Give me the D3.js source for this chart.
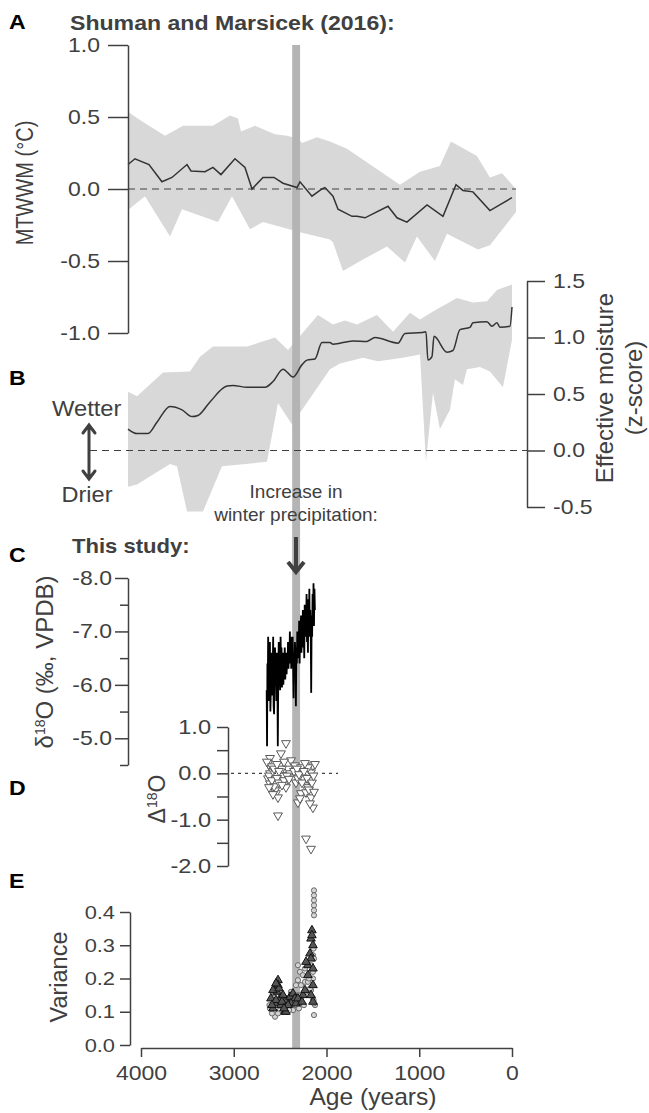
<!DOCTYPE html>
<html>
<head>
<meta charset="utf-8">
<script src="https://cdn.jsdelivr.net/npm/d3@7"></script>
<style>
body { margin: 0; background: #fff; }
svg text { font-family: "Liberation Sans", Arial, Helvetica, sans-serif; }
</style>
</head>
<body>
<div class="canvas"></div>
<script>
// ---- data ----
// A: MTWWM anomaly (degC), Shuman and Marsicek (2016)
const ageA = [4140, 4065, 3914, 3774, 3666, 3504, 3461, 3310, 3224, 3138, 2987, 2879, 2803, 2685, 2566, 2469, 2318, 2286, 2157, 2049, 2017, 1930, 1876, 1725, 1671, 1585, 1337, 1240, 1133, 916, 744, 604, 529, 421, 238, 0];
const mtwwm = [0.17, 0.21, 0.17, 0.05, 0.08, 0.17, 0.125, 0.12, 0.15, 0.10, 0.21, 0.15, 0.0, 0.08, 0.08, 0.04, 0.01, 0.05, -0.05, 0.0, 0.01, -0.05, -0.14, -0.19, -0.19, -0.2, -0.12, -0.2, -0.23, -0.11, -0.19, 0.03, -0.01, -0.02, -0.15, -0.06];
const ageAHi = [4140, 3978, 3741, 3547, 3224, 3041, 2954, 2922, 2771, 2556, 2426, 2308, 2264, 2103, 1963, 1779, 1208, 992, 777, 658, 378, 238, 108, -43];
const mtwwmHi = [0.535, 0.465, 0.37, 0.44, 0.44, 0.51, 0.49, 0.40, 0.44, 0.38, 0.37, 0.35, 0.32, 0.36, 0.33, 0.28, 0.03, 0.12, 0.16, 0.33, 0.23, 0.08, 0.11, 0.0];
const ageALo = [4140, 3957, 3687, 3558, 3170, 3019, 2825, 2685, 2286, 1963, 1930, 1822, 1607, 1348, 1154, 1025, 831, 701, 367, 238, -43];
const mtwwmLo = [-0.146, -0.05, -0.33, -0.14, -0.23, -0.05, -0.28, -0.23, -0.30, -0.35, -0.37, -0.57, -0.49, -0.40, -0.51, -0.33, -0.50, -0.31, -0.42, -0.39, -0.16];

// B: effective moisture (z-score)
const ageB = [4140, 4043, 3925, 3828, 3687, 3558, 3450, 3386, 3256, 3073, 3008, 2857, 2663, 2577, 2469, 2361, 2264, 2210, 2124, 2049, 1963, 1930, 1715, 1564, 1477, 1230, 1154, 971, 928, 906, 863, 841, 701, 637, 561, 453, 421, 270, 216, 162, 130, 22, 0];
const moist = [0.19, 0.15, 0.15, 0.25, 0.39, 0.36, 0.30, 0.31, 0.43, 0.57, 0.575, 0.56, 0.56, 0.61, 0.72, 0.65, 0.76, 0.80, 0.81, 0.955, 0.955, 0.94, 0.97, 0.965, 1.0, 0.95, 1.035, 1.045, 1.05, 0.80, 0.83, 1.01, 0.87, 0.885, 1.07, 1.09, 1.13, 1.14, 1.10, 1.13, 1.09, 1.10, 1.27];
const ageBHi = [4140, 4043, 3763, 3472, 3364, 3224, 2857, 2556, 2415, 2092, 1930, 1801, 1672, 1456, 1283, 1100, 992, 852, 594, 421, 270, 162, 0];
const moistHi = [0.52, 0.48, 0.69, 0.70, 0.83, 0.92, 0.92, 1.0, 0.89, 1.20, 1.115, 1.15, 1.115, 1.20, 1.05, 1.22, 1.16, 1.23, 1.35, 1.31, 1.32, 1.42, 1.47];
const ageBLo = [4140, 4043, 3687, 3612, 3504, 3332, 3127, 2642, 2523, 2372, 1963, 1855, 1607, 1445, 1176, 992, 928, 852, 777, 669, 615, 529, 486, 346, 238, 98, 0];
const moistLo = [-0.32, -0.30, -0.12, -0.14, -0.54, -0.54, -0.14, -0.10, 0.42, 0.23, 0.72, 0.77, 0.82, 0.79, 0.82, 0.85, -0.10, 0.51, 0.19, 0.36, 0.63, 0.58, 0.72, 0.74, 0.70, 0.56, 0.98];

// C: d18O (permil VPDB), this study
const ageC = [2645, 2641, 2637, 2633, 2629, 2625, 2620, 2615, 2610, 2605, 2600, 2595, 2590, 2585, 2580, 2575, 2570, 2565, 2560, 2555, 2550, 2545, 2540, 2535, 2530, 2525, 2520, 2515, 2510, 2505, 2500, 2495, 2490, 2485, 2480, 2475, 2470, 2465, 2460, 2455, 2450, 2445, 2440, 2435, 2430, 2425, 2420, 2415, 2410, 2405, 2400, 2395, 2390, 2385, 2380, 2375, 2370, 2365, 2360, 2355, 2350, 2345, 2340, 2335, 2330, 2325, 2320, 2315, 2310, 2305, 2300, 2295, 2290, 2285, 2280, 2275, 2270, 2265, 2260, 2255, 2250, 2245, 2240, 2235, 2230, 2225, 2220, 2215, 2210, 2205, 2200, 2195, 2190, 2185, 2180, 2175, 2170, 2165, 2160, 2155, 2150, 2145, 2140, 2135, 2130, 2125];
const d18O = [-5.9, -4.85, -6.4, -6.0, -6.9, -5.7, -6.3, -6.1, -6.8, -5.5, -5.9, -6.6, -5.8, -6.5, -6.2, -6.9, -5.6, -5.45, -6.3, -6.7, -6.0, -6.4, -5.7, -6.6, -6.3, -4.85, -6.1, -6.8, -6.2, -6.5, -5.9, -6.9, -6.4, -6.7, -5.95, -6.2, -6.6, -6.0, -6.5, -6.3, -6.7, -6.1, -6.35, -6.6, -6.2, -6.5, -6.3, -6.8, -6.3, -6.6, -6.4, -7.0, -6.5, -6.9, -6.3, -6.6, -6.45, -6.9, -6.4, -5.75, -6.6, -6.3, -6.8, -6.5, -5.6, -6.7, -6.4, -7.0, -6.5, -6.9, -6.6, -7.2, -6.4, -6.9, -6.7, -7.3, -6.6, -7.0, -6.8, -7.4, -6.7, -7.1, -6.5, -7.5, -6.9, -7.3, -7.0, -7.7, -6.8, -7.2, -6.6, -7.6, -7.1, -7.8, -6.9, -7.4, -7.0, -5.85, -7.3, -6.9, -7.7, -7.2, -7.9, -7.1, -7.8, -7.4];

// D: Delta18O (permil)
const ageD = [2609, 2631, 2599, 2609, 2631, 2609, 2599, 2545, 2523, 2555, 2502, 2491, 2469, 2448, 2437, 2415, 2393, 2383, 2340, 2361, 2329, 2286, 2275, 2254, 2232, 2275, 2308, 2286, 2221, 2200, 2178, 2167, 2146, 2167, 2146, 2178, 2200, 2232, 2308, 2642, 2620, 2588, 2577, 2566, 2534, 2512, 2480, 2458, 2426, 2404, 2350, 2318, 2297, 2264, 2243, 2210, 2189, 2157, 2135, 2124, 2140, 2588, 2566, 2534, 2512, 2480, 2458, 2620, 2577, 2437, 2491, 2523, 2221, 2167];
const delta = [0.33, 0.22, 0.11, 0.0, -0.11, -0.22, -0.33, -0.43, -0.52, -0.37, 0.17, 0.07, -0.04, -0.2, -0.3, 0.1, 0.0, 0.28, 0.17, -0.09, -0.2, 0.02, 0.13, -0.09, -0.26, -0.43, -0.63, -0.54, -0.41, -0.3, -0.15, 0.02, 0.17, -0.52, -0.74, -0.65, 0.13, 0.22, -0.11, 0.25, -0.05, -0.15, 0.05, -0.28, -0.1, -0.2, 0.1, -0.15, -0.05, -0.12, 0.05, 0.1, -0.02, -0.2, 0.05, -0.1, -0.35, -0.2, -0.4, 0.2, -0.05, 0.15, 0.1, 0.2, 0.05, -0.25, 0.25, -0.3, -0.45, 0.65, 0.43, -0.91, -1.41, -1.63];

// E: variance, two estimates (circles, triangles)
const ageEc = [2577, 2599, 2555, 2502, 2469, 2383, 2361, 2340, 2308, 2286, 2308, 2275, 2254, 2232, 2232, 2200, 2167, 2146, 2146, 2167, 2146, 2124, 2329, 2415, 2545, 2609, 2523, 2275, 2308, 2221, 2135, 2135, 2135, 2135, 2135, 2135, 2135, 2135, 2140, 2146, 2135, 2140, 2615, 2588, 2566, 2480, 2437, 2404, 2350, 2297, 2264, 2243, 2189, 2178];
const varC = [0.155, 0.11, 0.085, 0.105, 0.125, 0.16, 0.105, 0.12, 0.24, 0.22, 0.195, 0.18, 0.21, 0.19, 0.23, 0.19, 0.24, 0.22, 0.27, 0.165, 0.14, 0.12, 0.18, 0.14, 0.175, 0.11, 0.095, 0.135, 0.15, 0.16, 0.465, 0.45, 0.435, 0.42, 0.405, 0.39, 0.09, 0.125, 0.135, 0.2, 0.26, 0.29, 0.12, 0.095, 0.13, 0.115, 0.12, 0.105, 0.13, 0.11, 0.125, 0.12, 0.2, 0.17];
const ageEt = [2523, 2523, 2534, 2502, 2555, 2577, 2448, 2491, 2437, 2393, 2361, 2340, 2286, 2254, 2232, 2200, 2200, 2178, 2167, 2157, 2146, 2167, 2146, 2146, 2167, 2383, 2329, 2599, 2577, 2545, 2469, 2437, 2221, 2512, 2480, 2415, 2308, 2264, 2157, 2146, 2588, 2545, 2458];
const varT = [0.195, 0.18, 0.16, 0.14, 0.125, 0.11, 0.10, 0.12, 0.135, 0.145, 0.155, 0.14, 0.135, 0.15, 0.165, 0.21, 0.24, 0.275, 0.32, 0.345, 0.30, 0.26, 0.18, 0.13, 0.15, 0.125, 0.125, 0.14, 0.165, 0.135, 0.15, 0.10, 0.25, 0.17, 0.13, 0.12, 0.14, 0.13, 0.33, 0.23, 0.12, 0.185, 0.11];

// event band (years) and tick labels
const eventAges = [2370, 2285];
const ticksA = [1, 0.5, 0, -0.5, -1];
const ticksB = [1.5, 1, 0.5, 0, -0.5];
const ticksC = [-8, -7.5, -7, -6.5, -6, -5.5, -5, -4.5];
const labelsC = [-8, -7, -6, -5];
const ticksD = [1, 0.5, 0, -0.5, -1, -1.5, -2];
const labelsD = [1, 0, -1, -2];
const ticksE = [0.4, 0.3, 0.2, 0.1, 0];
const ticksAge = [4000, 3000, 2000, 1000, 0];

// ---- drawing ----
const ink = '#404040';
const bandFill = '#d8d8d8';

const svg = d3.select('.canvas')
    .append('svg')
        .attr('width', 649)
        .attr('height', 1113);

const x = d3.scaleLinear().domain([4000, 0]).range([141, 512]);
const yA = d3.scaleLinear().domain([-1, 1]).range([333, 45]);
const yB = d3.scaleLinear().domain([-0.5, 1.5]).range([507, 281]);
const yC = d3.scaleLinear().domain([-4.5, -8]).range([765, 578]);
const yD = d3.scaleLinear().domain([-2, 1]).range([866, 727]);
const yE = d3.scaleLinear().domain([0, 0.4]).range([1045, 912]);

const zip = (a, b) => a.map((v, i) => [v, b[i]]);

// text helper: the figure is a bit wider than tall, so most text is stretched sideways
function label(x0, y0, s, o = {}) {
    let tf = `translate(${x0},${y0}) scale(${o.sx || 1},1)`;
    if (o.rot) tf += ` rotate(${o.rot})`;
    return svg.append('text')
        .attr('transform', tf)
        .attr('text-anchor', o.anchor || 'start')
        .attr('fill', o.fill || ink)
        .style('font-size', (o.size || 20) + 'px')
        .style('font-weight', o.bold ? 'bold' : null)
        .text(s);
}

function styleAxis(g, dx, size, sx) {
    g.attr('font-size', null).attr('font-family', null);
    g.select('.domain').attr('stroke', ink).attr('stroke-width', 1.5);
    g.selectAll('.tick line').attr('stroke', ink).attr('stroke-width', 1.5);
    g.selectAll('.tick text')
        .attr('fill', ink)
        .style('font-size', size + 'px')
        .attr('transform', `scale(${sx},1)`);
    if (dx !== null) g.selectAll('.tick text').attr('x', dx / sx);
}

function band(agesHi, hi, agesLo, lo, y) {
    const pts = zip(agesHi, hi).concat(zip(agesLo, lo).reverse());
    const line = d3.line().x(d => x(d[0])).y(d => y(d[1]));
    return line(pts) + 'Z';
}

const fmt = d => d.toFixed(1);

// shaded uncertainty bands
svg.append('path').attr('d', band(ageAHi, mtwwmHi, ageALo, mtwwmLo, yA)).attr('fill', bandFill);
svg.append('path').attr('d', band(ageBHi, moistHi, ageBLo, moistLo, yB)).attr('fill', bandFill);

// event bar
svg.append('rect')
    .attr('x', x(eventAges[0]))
    .attr('width', x(eventAges[1]) - x(eventAges[0]))
    .attr('y', 45)
    .attr('height', 1048 - 45)
    .attr('fill', '#b4b4b4');

// zero lines
svg.append('line').attr('x1', 128).attr('x2', 516).attr('y1', yA(0)).attr('y2', yA(0))
    .attr('stroke', ink).attr('stroke-width', 1.2).attr('stroke-dasharray', '7,5');
svg.append('line').attr('x1', 90).attr('x2', 527).attr('y1', yB(0)).attr('y2', yB(0))
    .attr('stroke', ink).attr('stroke-width', 1.2).attr('stroke-dasharray', '7,5');
svg.append('line').attr('x1', 231).attr('x2', 338).attr('y1', yD(0)).attr('y2', yD(0))
    .attr('stroke', ink).attr('stroke-width', 1.2).attr('stroke-dasharray', '3,4');

// mean lines
svg.append('path')
    .attr('d', d3.line().x(d => x(d[0])).y(d => yA(d[1]))(zip(ageA, mtwwm)))
    .attr('fill', 'none').attr('stroke', '#333').attr('stroke-width', 1.5);
svg.append('path')
    .attr('d', d3.line().curve(d3.curveMonotoneX).x(d => x(d[0])).y(d => yB(d[1]))(zip(ageB, moist).reverse()))
    .attr('fill', 'none').attr('stroke', '#333').attr('stroke-width', 1.5);

// C: d18O series
svg.append('path')
    .attr('d', d3.line().x(d => x(d[0])).y(d => yC(d[1]))(zip(ageC, d18O)))
    .attr('fill', 'none').attr('stroke', '#000').attr('stroke-width', 1.8);

// D: triangles (down)
const triDown = d3.symbol().type(d3.symbolTriangle).size(34);
svg.append('g').selectAll('path')
    .data(zip(ageD, delta))
    .enter()
    .append('path')
        .attr('d', triDown)
        .attr('transform', d => `translate(${x(d[0])},${yD(d[1])}) rotate(180)`)
        .attr('fill', '#fff')
        .attr('stroke', '#5a5a5a')
        .attr('stroke-width', 1);

// E: circles then triangles
svg.append('g').selectAll('circle')
    .data(zip(ageEc, varC))
    .enter()
    .append('circle')
        .attr('cx', d => x(d[0]))
        .attr('cy', d => yE(d[1]))
        .attr('r', 2.6)
        .attr('fill', '#d4d4d4')
        .attr('stroke', '#6a6a6a')
        .attr('stroke-width', 1);
const triUp = d3.symbol().type(d3.symbolTriangle).size(32);
svg.append('g').selectAll('path')
    .data(zip(ageEt, varT))
    .enter()
    .append('path')
        .attr('d', triUp)
        .attr('transform', d => `translate(${x(d[0])},${yE(d[1])})`)
        .attr('fill', '#555')
        .attr('stroke', '#111')
        .attr('stroke-width', 1);

// ---- axes ----
const axA = svg.append('g').attr('transform', 'translate(128,0)')
    .call(d3.axisLeft(yA).tickValues(ticksA).tickSize(20).tickSizeOuter(0).tickFormat(fmt));
styleAxis(axA, -28, 20, 1.15);

const axB = svg.append('g').attr('transform', 'translate(527,0)')
    .call(d3.axisRight(yB).tickValues(ticksB).tickSize(18).tickSizeOuter(0).tickFormat(fmt));
styleAxis(axB, 26, 20, 1.15);

const axC = svg.append('g').attr('transform', 'translate(128,0)')
    .call(d3.axisLeft(yC).tickValues(ticksC).tickSize(13).tickSizeOuter(0)
        .tickFormat(d => labelsC.includes(d) ? fmt(d) : ''));
styleAxis(axC, -16, 20, 1.15);
axC.selectAll('.tick line').attr('x2', d => labelsC.includes(d) ? -13 : -8);

const axD = svg.append('g').attr('transform', 'translate(228,0)')
    .call(d3.axisLeft(yD).tickValues(ticksD).tickSize(11).tickSizeOuter(0)
        .tickFormat(d => labelsD.includes(d) ? fmt(d) : ''));
styleAxis(axD, -17, 20.5, 1.15);

const axE = svg.append('g').attr('transform', 'translate(130,0)')
    .call(d3.axisLeft(yE).tickValues(ticksE).tickSize(10).tickSizeOuter(0).tickFormat(fmt));
styleAxis(axE, -15, 19, 1.15);

const axX = svg.append('g').attr('transform', 'translate(0,1048)')
    .call(d3.axisBottom(x).tickValues(ticksAge).tickSize(9).tickSizeOuter(0).tickPadding(9).tickFormat(d3.format('d')));
styleAxis(axX, null, 20, 1.15);

// ---- text ----
const letters = [['A', 29], ['B', 385], ['C', 562], ['D', 795], ['E', 888]];
letters.forEach(l => label(9, l[1], l[0], { size: 21, bold: true, fill: '#000', sx: 1.1 }));

label(70, 30, 'Shuman and Marsicek (2016):', { size: 21, bold: true, sx: 1.1 });
label(72, 553, 'This study:', { size: 21, bold: true, sx: 1.05 });

label(33, 183, 'MTWWM (°C)', { size: 20, sx: 1.15, rot: -90, anchor: 'middle' });
label(613, 388, 'Effective moisture', { size: 24, rot: -90, anchor: 'middle' });
label(642, 388, '(z-score)', { size: 24, rot: -90, anchor: 'middle' });
label(67, 977, 'Variance', { size: 23.5, rot: -90, anchor: 'middle' });

const dC = label(53, 662, 'δ', { size: 24, rot: -90, anchor: 'middle' });
dC.append('tspan').attr('baseline-shift', 'super').style('font-size', '14px').text('18');
dC.append('tspan').text('O (‰, VPDB)');

const dD = label(165, 799, 'Δ', { size: 23, rot: -90, anchor: 'middle' });
dD.append('tspan').attr('baseline-shift', 'super').style('font-size', '14px').text('18');
dD.append('tspan').text('O');

label(52, 416, 'Wetter', { size: 22, sx: 1.08 });
label(87, 502, 'Drier', { size: 22, sx: 1.07, anchor: 'middle' });

label(296, 498, 'Increase in', { size: 19, anchor: 'middle' });
label(296, 521, 'winter precipitation:', { size: 19, anchor: 'middle' });

label(373, 1105, 'Age (years)', { size: 23, sx: 1.07, anchor: 'middle' });

// wetter/drier double arrow
svg.append('path')
    .attr('d', 'M89,426 L89,478 M83,433 L89,425 L95,433 M83,471 L89,479 L95,471')
    .attr('fill', 'none').attr('stroke', ink).attr('stroke-width', 3).attr('stroke-linecap', 'round');

// increase arrow
svg.append('path')
    .attr('d', 'M296,537 L296,570 M288,562 L296,572 L304,562')
    .attr('fill', 'none').attr('stroke', ink).attr('stroke-width', 4).attr('stroke-linejoin', 'miter');
</script>
</body>
</html>
